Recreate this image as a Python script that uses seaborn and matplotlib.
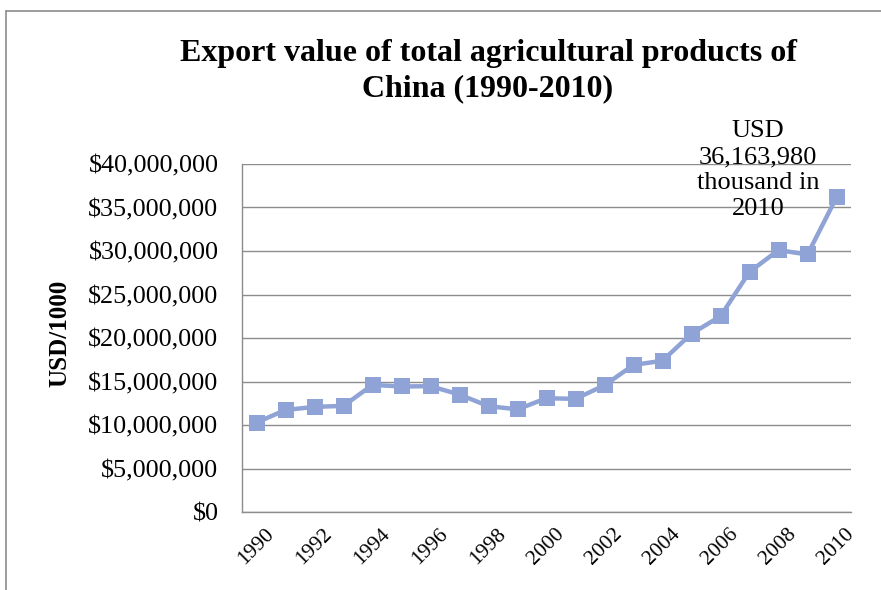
import matplotlib
matplotlib.use("Agg")
import matplotlib.pyplot as plt
import matplotlib.ticker as mticker
from matplotlib.lines import Line2D
import seaborn as sns
import pandas as pd

years = list(range(1990, 2011))
export_values = [10.28, 11.73, 12.08, 12.2, 14.61, 14.43, 14.46, 13.5, 12.16, 11.8,
                 13.08, 13.0, 14.57, 16.9, 17.39, 20.5, 22.5, 27.6, 30.1, 29.6, 36.16398]
export_values = [v * 1e6 for v in export_values]
xtick_years = list(range(1990, 2011, 2))
title = "Export value of total agricultural products of\nChina (1990-2010)"
ylabel = "USD/1000"
note = "USD\n36,163,980\nthousand in\n2010"

df = pd.DataFrame({"year": years, "value": export_values})

sns.set_theme(style="white")
plt.rcParams["font.family"] = ["Liberation Serif", "DejaVu Serif"]
plt.rcParams["text.color"] = "black"
plt.rcParams["xtick.color"] = "black"
plt.rcParams["ytick.color"] = "black"
plt.rcParams["axes.labelcolor"] = "black"

fig = plt.figure(figsize=(8.81, 5.90), dpi=100)
ax = fig.add_axes([242 / 881, 1 - 512 / 590, (851 - 242) / 881, (512 - 164) / 590])

color = "#8FA3D6"
sns.lineplot(data=df, x="year", y="value", ax=ax, color=color, linewidth=3.2,
             marker="s", markersize=12, markeredgewidth=0, zorder=3)

ax.set_xlim(1989.5, 2010.5)
ax.set_ylim(0, 40e6)
ax.set_yticks([i * 5e6 for i in range(9)])
ax.yaxis.set_major_formatter(mticker.FuncFormatter(lambda v, p: "${:,.0f}".format(v)))
ax.set_xticks(xtick_years)
ax.set_xticklabels([str(y) for y in xtick_years], rotation=45, ha="center", fontsize=15.5)
ax.tick_params(axis="y", labelsize=18.8, length=0, pad=17)
ax.tick_params(axis="x", length=0, pad=9)
ax.grid(axis="y", color="#8c8c8c", linewidth=1.0)
ax.set_axisbelow(True)
for s in ["top", "right"]:
    ax.spines[s].set_visible(False)
for s in ["left", "bottom"]:
    ax.spines[s].set_color("#8c8c8c")
    ax.spines[s].set_linewidth(1.0)

ax.set_xlabel("")
ax.set_ylabel("")
fig.text(60 / 881, 1 - 333 / 590, ylabel, rotation=90, ha="center", va="center",
         fontsize=18, fontweight="bold")

fig.text(488 / 881, 1 - 71 / 590, title, ha="center", va="center", fontsize=23,
         fontweight="bold", linespacing=1.3)

ax.text(2007.3, 39.3e6, note, ha="center", va="center", fontsize=19,
        linespacing=1.25, clip_on=False)

fig.add_artist(Line2D([6 / 881, 1.1], [1 - 11 / 590, 1 - 11 / 590], transform=fig.transFigure,
                      color="#8c8c8c", linewidth=1.2))
fig.add_artist(Line2D([6 / 881, 6 / 881], [-0.1, 1 - 11 / 590], transform=fig.transFigure,
                      color="#8c8c8c", linewidth=1.2))

fig.savefig("out.png", dpi=100)
